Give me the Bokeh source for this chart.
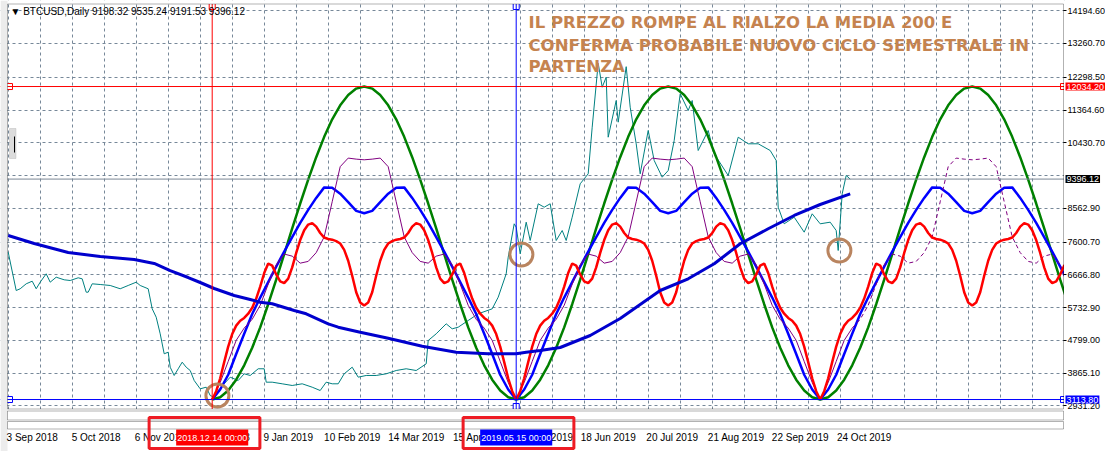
from bokeh.plotting import figure
from bokeh.models import Range1d, FixedTicker, Span, Label, BoxAnnotation, LinearAxis
from bokeh.embed import file_html
from bokeh.resources import INLINE

# ---------------- data (x = days since 3 Sep 2018) ----------------
tick_days = [0, 32, 64, 96, 128, 160, 192, 224, 256, 288, 320, 352, 384, 416]
tick_labels = ["3 Sep 2018", "5 Oct 2018", "6 Nov 2018", "8 Dec 2018", "9 Jan 2019",
               "10 Feb 2019", "14 Mar 2019", "15 Apr 2019", "17 May 2019", "18 Jun 2019",
               "20 Jul 2019", "21 Aug 2019", "22 Sep 2019", "24 Oct 2019"]
price_ticks = [2931.2, 3865.1, 4799.0, 5732.9, 6666.8, 7600.7, 8562.9,
               10430.7, 11364.6, 12298.5, 13260.7, 14194.6]
hidden_grid_price = [9496.8]

price_days = [0, 4, 6, 9, 12, 14, 16, 19, 21, 24, 28, 31, 35, 37, 39, 40, 42, 46, 51, 56,
              60, 64, 66, 70, 72, 74, 76, 78, 80, 81, 83, 85, 87, 89, 91, 93, 96, 99, 101, 103,
              105, 108, 111, 115, 118, 121, 125, 128, 129, 132, 137, 142, 147, 152, 156, 159, 162, 165, 168, 172,
              175, 179, 184, 189, 194, 199, 204, 209, 210, 214, 219, 222, 225, 230, 235, 242, 245, 249, 250, 253,
              254, 256, 259, 261, 265, 268, 271, 274, 277, 279, 282, 286, 290, 292, 295, 297, 299, 300, 304, 305,
              309, 311, 314, 316, 320, 323, 327, 330, 333, 336, 340, 342, 345, 350, 353, 360, 365, 370, 375, 381,
              384, 385, 388, 393, 398, 402, 406, 411, 414, 415, 417, 419, 421]
price_close = [7313, 6221, 6270, 6412, 6486, 6270, 6458, 6697, 6458, 6600,
               6526, 6506, 6583, 6554, 6173, 6173, 6412, 6392, 6364, 6270,
               6364, 6458, 6364, 6270, 5700, 5460, 4987, 4417, 4463, 4035,
               3799, 3989, 4178, 4035, 3941, 3656, 3419, 3465, 3228, 3180,
               3371, 3562, 3750, 3656, 3847, 3799, 3990, 3990, 3608, 3608,
               3562, 3514, 3562, 3465, 3371, 3608, 3562, 3562, 3847, 4035,
               3751, 3799, 3799, 3847, 3941, 3990, 3941, 4132, 4796, 4987,
               5272, 5129, 5175, 5366, 5557, 5699, 6030, 6697, 7170, 8122,
               8025, 7267, 8168, 7646, 8692, 8595, 8692, 7646, 7931, 7646,
               8310, 9262, 9547, 10875, 12700, 12015, 12300, 10590, 11636, 11018,
               12600, 11445, 10402, 9547, 10781, 9926, 9450, 9641, 10496, 11827,
               11351, 11636, 10211, 10781, 10117, 9499, 10590, 10402, 10402, 10211,
               9926, 8595, 8122, 8310, 7883, 8407, 8122, 8168, 7931, 7361,
               8977, 9499, 9396]

ma_days = [0, 13, 30, 46, 63, 73, 81, 90, 96, 103, 113, 121, 126, 132, 143, 149, 160, 165, 176, 190,
           207, 224, 240, 254, 259, 266, 276, 291, 306, 326, 340, 353, 366, 380, 393, 406, 421]
ma_200 = [7789, 7561, 7303, 7189, 7104, 6991, 6790, 6591, 6449, 6278, 6079, 5965, 5888, 5842, 5651, 5557, 5272, 5175, 5032, 4860,
          4630, 4463, 4417, 4417, 4463, 4511, 4597, 4938, 5423, 6221, 6555, 6982, 7552, 7980, 8359, 8672, 8977]

# cycle template (offsets in days from each cycle low) and cycle lows
cycle_starts = [102, 254, 406]
offs4 = list(range(0, 153, 4))
offs2 = list(range(0, 153, 2))
green_cycle = [3114, 3180, 3370, 3680, 4090, 4590, 5170, 5830, 6530, 7260, 7990, 8700, 9380, 10020,
               10600, 11100, 11500, 11795, 11975, 12034, 11975, 11795, 11500, 11100, 10600, 10020,
               9380, 8700, 7990, 7260, 6530, 5830, 5170, 4590, 4090, 3680, 3370, 3180, 3114]
blue_cycle = [3114, 3400, 3820, 4410, 4990, 5550, 6020, 6460, 6900, 7330, 7740, 8150, 8520, 8860,
              9160, 9150, 8980, 8740, 8490, 8424, 8490, 8740, 8980, 9150, 9160, 8860, 8520, 8150,
              7740, 7330, 6900, 6460, 6020, 5550, 4990, 4410, 3820, 3400, 3114]
purple_cycle = [3114, 3600, 4200, 4800, 5150, 5400, 5800, 6400, 6950, 7260, 7200, 7000, 7050, 7300,
                7750, 8750, 9750, 9995, 9965, 9946, 9965, 9995, 9750, 8750, 7750, 7300, 7050, 7000,
                7200, 7260, 6950, 6400, 5800, 5400, 5150, 4800, 4200, 3600, 3114]
red_cycle = [3114, 3350, 3720, 4180, 4620, 4980, 5220, 5360, 5440, 5560, 5730, 5990, 6330, 6720,
             6990, 6930, 6680, 6480, 6430, 6560, 6880, 7290, 7660, 7940, 8100, 8140, 8040, 7860,
             7730, 7690, 7670, 7630, 7560, 7380, 7070, 6640, 6170, 5880, 5794,
             5880, 6170, 6640, 7070, 7380, 7560, 7630, 7670, 7690, 7730, 7860, 8040, 8140, 8100,
             7940, 7660, 7290, 6880, 6560, 6430, 6480, 6680, 6930, 6990, 6720, 6330, 5990, 5730,
             5560, 5440, 5360, 5220, 4980, 4620, 4180, 3720, 3350, 3114]

resistance = 12034.2
support = 3113.8
last_close = 9396.12
marker_days = [102, 254]
marker_labels = ["2018.12.14 00:00", "2019.05.15 00:00"]
circle_days = [104.6, 256.6, 415.6]
circle_prices = [3228, 7247, 7361]
header = "\u25bc BTCUSD,Daily  9198.32 9535.24 9191.53 9396.12"
title_lines = ["IL PREZZO ROMPE AL RIALZO LA MEDIA 200 E",
               "CONFERMA PROBABILE NUOVO CICLO SEMESTRALE IN",
               "PARTENZA"]


def tile(offsets, values):
    xs, ys = [], []
    for s in cycle_starts:
        for o, v in zip(offsets, values):
            xs.append(s + o)
            ys.append(v)
    return xs, ys


# ---------------- layout helpers (page pixel -> data) ----------------
W, H = 1105, 451
PX_PER_DAY, X_ORIGIN = 2.0, 7.7
PRICE_TOP, PRICE_PER_PX = 14486.0, 28.5


def dx(px):
    return (px - X_ORIGIN) / PX_PER_DAY


def py(px):
    return PRICE_TOP - PRICE_PER_PX * px


L_EDGE, R_EDGE, T_EDGE, B_EDGE = 7, 1063, 3.5, 408.5
FONT = "Liberation Sans"

p = figure(width=W, height=H, x_range=Range1d(dx(0), dx(W)), y_range=Range1d(py(H), py(0)),
           output_backend="svg", toolbar_location=None, x_axis_location=None, y_axis_location=None,
           min_border=0, min_border_left=0, min_border_right=0, min_border_top=0, min_border_bottom=0)
p.outline_line_color = None
p.background_fill_color = "white"
p.border_fill_color = "white"

GRID = "#778899"
half_steps = sorted(set(tick_days + [d + 16 for d in tick_days] + [448, 464, 480, 496, 512, 528]))
p.xgrid.ticker = FixedTicker(ticks=half_steps)
p.ygrid.ticker = FixedTicker(ticks=price_ticks + hidden_grid_price)
for g in (p.xgrid, p.ygrid):
    g.grid_line_color = GRID
    g.grid_line_dash = "3 3"
    g.grid_line_width = 1

# axes drawn at fixed positions (MT4 style)
shift = 12
xax = LinearAxis(fixed_location=py(428.5), level="overlay")
xax.ticker = FixedTicker(ticks=[d + shift for d in tick_days])
xax.major_label_overrides = {d + shift: t for d, t in zip(tick_days, tick_labels)}
xax.major_tick_line_color = None
xax.major_tick_out = 0
xax.major_tick_in = 0
xax.minor_tick_line_color = None
xax.minor_tick_out = 0
xax.axis_line_color = None
xax.major_label_standoff = 3
xax.major_label_text_font = FONT
xax.major_label_text_font_size = "10px"
xax.major_label_text_color = "black"
p.add_layout(xax, "below")

yax = LinearAxis(fixed_location=dx(R_EDGE), level="overlay")
yax.ticker = FixedTicker(ticks=price_ticks)
yax.major_label_overrides = {v: "%.2f" % v for v in price_ticks}
yax.major_tick_out = 3
yax.major_tick_in = 0
yax.major_tick_line_color = "black"
yax.minor_tick_line_color = None
yax.axis_line_color = None
yax.major_label_standoff = 1
yax.major_label_text_font = FONT
yax.major_label_text_font_size = "9px"
yax.major_label_text_color = "black"
p.add_layout(yax, "right")

# price & MA
p.line(price_days, price_close, color="#008080", line_width=1)

gx, gy = tile(offs4, green_cycle)
bx, by = tile(offs4, blue_cycle)
ux, uy = tile(offs4, purple_cycle)
rx, ry = tile(offs2, red_cycle)

p.line(gx, gy, color="#008000", line_width=2.5)
p.line(bx, by, color="#0000ff", line_width=2.5)
last_day = price_days[-1]
k = max(i for i, d in enumerate(ux) if d <= last_day + 1)
p.line(ux[:k + 1], uy[:k + 1], color="#800080", line_width=1)
p.line(ux[k:], uy[k:], color="#800080", line_width=1, line_dash="4 3")
p.line(rx, ry, color="#ff0000", line_width=2.5)
p.line(ma_days, ma_200, color="#0000cd", line_width=3)

p.scatter(circle_days, circle_prices, marker="circle", size=23, fill_color=None,
          line_color="#b9845f", line_width=3)

# horizontal / vertical lines
p.add_layout(Span(location=last_close, dimension="width", line_color="#7b8794", line_width=1))
p.add_layout(Span(location=resistance, dimension="width", line_color="#ff0000", line_width=1))
p.add_layout(Span(location=support, dimension="width", line_color="#0000ff", line_width=1))
p.add_layout(Span(location=marker_days[0], dimension="height", line_color="#ff0000", line_width=1))
p.add_layout(Span(location=marker_days[1], dimension="height", line_color="#0000ff", line_width=1))

# masks outside the main chart window
WHITE = dict(fill_color="white", fill_alpha=1, line_color=None)
p.add_layout(BoxAnnotation(left=dx(R_EDGE + 0.5), right=dx(W), top=py(0), bottom=py(H), **WHITE))
p.add_layout(BoxAnnotation(left=dx(0), right=dx(W), top=py(B_EDGE), bottom=py(H), **WHITE))
p.add_layout(BoxAnnotation(left=dx(0), right=dx(W), top=py(0), bottom=py(T_EDGE), **WHITE))
p.add_layout(BoxAnnotation(left=dx(0), right=dx(L_EDGE), top=py(0), bottom=py(H),
                           fill_color="#ececec", fill_alpha=1, line_color=None))
# main window border and sub-windows
p.add_layout(BoxAnnotation(left=dx(L_EDGE), right=dx(R_EDGE), top=py(T_EDGE), bottom=py(B_EDGE),
                           fill_alpha=0, line_color="black", line_width=1))
p.add_layout(BoxAnnotation(left=dx(L_EDGE), right=dx(R_EDGE), top=py(410.5), bottom=py(419.5),
                           fill_alpha=0, line_color="black", line_width=1))
p.add_layout(BoxAnnotation(left=dx(L_EDGE), right=dx(R_EDGE), top=py(421), bottom=py(428.5),
                           fill_alpha=0, line_color="black", line_width=1))
# chart-shift handle at the left edge
p.add_layout(BoxAnnotation(left=dx(9), right=dx(15.5), top=py(128), bottom=py(158),
                           fill_color="#dcdcdc", fill_alpha=1, line_color="#a0a0a0", line_width=1))
p.add_layout(BoxAnnotation(left=dx(13.5), right=dx(14.5), top=py(136), bottom=py(152),
                           fill_color="black", fill_alpha=1, line_color=None))

# selection handles of drawn objects
hx = [dx(L_EDGE + 2), dx(R_EDGE), dx(L_EDGE + 2), dx(R_EDGE), marker_days[0], marker_days[1], marker_days[1]]
hy = [resistance, resistance, support, support, py(6), py(6), py(406)]
hc = ["#ff0000", "#ff0000", "#0000ff", "#0000ff", "#ff0000", "#0000ff", "#0000ff"]
p.scatter(hx, hy, marker="square", size=6, fill_color="white", line_color=hc, line_width=1)

# header and title
p.add_layout(Label(x=dx(10), y=py(10.5), text=header, text_font=FONT,
                   text_font_size="10px", text_color="black", text_baseline="middle"))
for t, yy in zip(title_lines, [22, 45, 66]):
    p.add_layout(Label(x=dx(528), y=py(yy), text=t, text_font="DejaVu Sans", text_font_style="bold",
                       text_font_size="16.5px", text_color="#c5834f", text_baseline="middle"))

# price tags on the right axis
for val, bg in [(resistance, "#ff0000"), (last_close, "#000000"), (support, "#0000ff")]:
    p.add_layout(Label(x=dx(R_EDGE + 2), y=val, text="%.2f" % val, text_font=FONT,
                       text_font_size="9px", text_color="white", background_fill_color=bg,
                       text_baseline="middle", text_align="left", padding=(1, 1), level="overlay"))

# date tags on the time axis and their highlight frames
for d, t, bg, cx in zip(marker_days, marker_labels, ["#ff0000", "#0000ff"], [204, 518]):
    p.add_layout(Label(x=d, y=py(437), text=t, text_font=FONT,
                       text_font_size="9px", text_color="white", background_fill_color=bg,
                       text_align="center", text_baseline="middle", padding=(1, 3), level="overlay"))
    p.add_layout(Label(x=dx(cx), y=py(432.5), text=" ", text_font_size="10px",
                       text_align="center", text_baseline="middle", padding=(54, 10),
                       border_line_color="#ee1c24", border_line_width=3, level="overlay"))

open("out.html", "w").write(file_html(p, INLINE))
